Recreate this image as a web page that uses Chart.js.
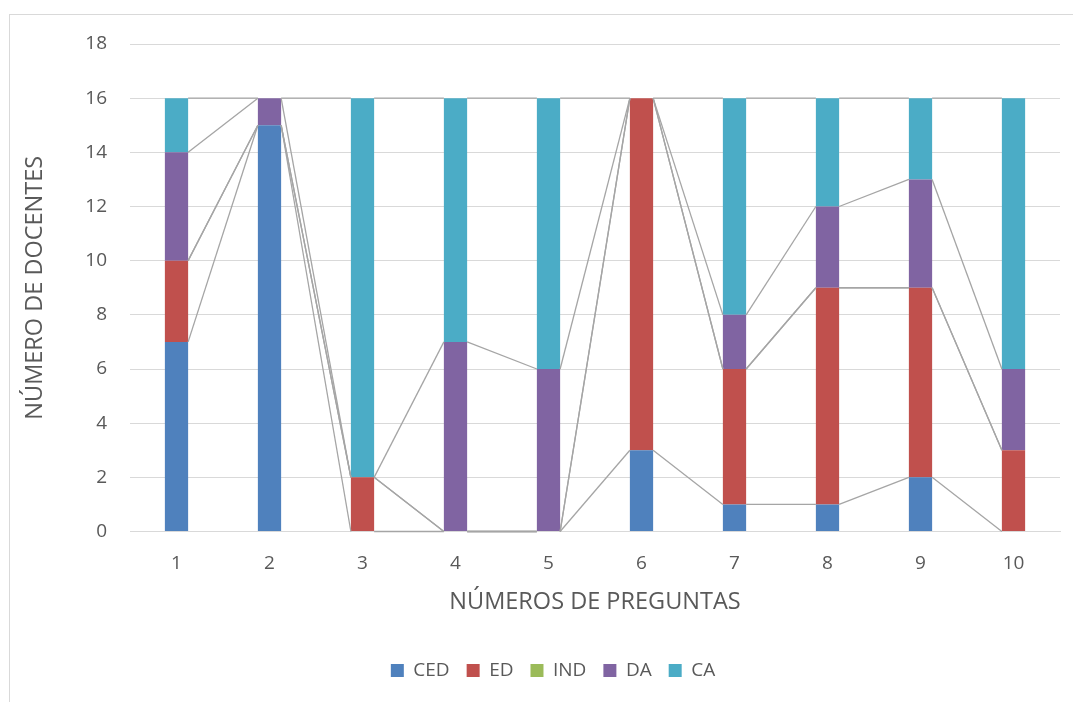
<!DOCTYPE html>
<html lang="es">
<head>
<meta charset="utf-8">
<title>Número de docentes por pregunta</title>
<script src="https://cdn.jsdelivr.net/npm/chart.js@4/dist/chart.umd.min.js"></script>
<style>
    html, body { margin: 0; padding: 0; background: #fff; overflow: hidden; }
    #wrap { position: relative; width: 1073px; height: 702px; }
    #marco {
        position: absolute; left: 9px; top: 14px; width: 1100px; height: 720px;
        border: 1px solid #d9d9d9; box-sizing: border-box; pointer-events: none;
    }
    canvas { position: absolute; left: 0; top: 0; }
</style>
</head>
<body>
<div id="wrap">
    <div id="marco"></div>
    <canvas id="docentesChart" width="1073" height="702"></canvas>
</div>
<script>
// Preguntas 1..10
const preguntas = ['1', '2', '3', '4', '5', '6', '7', '8', '9', '10'];

// Respuestas por categoría
const ced = [7, 15, 0, 0, 0, 3, 1, 1, 2, 0];
const ed  = [3, 0, 2, 0, 0, 13, 5, 8, 7, 3];
const ind = [0, 0, 0, 0, 0, 0, 0, 0, 0, 0];
const da  = [4, 1, 0, 7, 6, 0, 2, 3, 4, 3];
const ca  = [2, 0, 14, 9, 10, 0, 8, 4, 3, 10];

const fuente = "'Open Sans', 'DejaVu Sans', sans-serif";
const gris = '#595959';

// Líneas de serie entre columnas apiladas (como en Excel)
const lineasSerie = {
    id: 'lineasSerie',
    afterDatasetsDraw(chart) {
        const ctx = chart.ctx;
        ctx.save();
        ctx.strokeStyle = '#a5a5a5';
        ctx.lineWidth = 1.3;
        chart.data.datasets.forEach((ds, di) => {
            const barras = chart.getDatasetMeta(di).data;
            for (let i = 0; i < barras.length - 1; i++) {
                const a = barras[i];
                const b = barras[i + 1];
                ctx.beginPath();
                ctx.moveTo(a.x + a.width / 2, a.y);
                ctx.lineTo(b.x - b.width / 2, b.y);
                ctx.stroke();
            }
        });
        ctx.restore();
    }
};

function serie(label, data, color) {
    return {
        label: label,
        data: data,
        backgroundColor: color,
        borderWidth: 0,
        barPercentage: 0.25,
        categoryPercentage: 1
    };
}

const ctx = document.getElementById('docentesChart').getContext('2d');
new Chart(ctx, {
    type: 'bar',
    data: {
        labels: preguntas,
        datasets: [
            serie('CED', ced, '#4f81bd'),
            serie('ED', ed, '#c0504d'),
            serie('IND', ind, '#9bbb59'),
            serie('DA', da, '#8064a2'),
            serie('CA', ca, '#4bacc6')
        ]
    },
    options: {
        responsive: false,
        animation: false,
        // el margen izquierdo mayor desplaza la leyenda hacia la derecha
        layout: { padding: { left: 46, right: 13, top: 44, bottom: 12 } },
        plugins: {
            tooltip: { enabled: false },
            legend: {
                position: 'bottom',
                labels: {
                    boxWidth: 13,
                    boxHeight: 13,
                    padding: 17,
                    color: gris,
                    font: { family: fuente, size: 19 }
                }
            }
        },
        scales: {
            x: {
                stacked: true,
                grid: { display: false, drawTicks: false },
                border: { color: '#d9d9d9', width: 1 },
                ticks: { color: gris, padding: 21, font: { family: fuente, size: 19 } },
                title: {
                    display: true,
                    text: 'NÚMEROS DE PREGUNTAS',
                    color: gris,
                    font: { family: fuente, size: 23.5 },
                    padding: { top: 0, bottom: 28 }
                },
                afterFit(escala) { escala.height = 112.5; }
            },
            y: {
                stacked: true,
                min: 0,
                max: 18,
                ticks: { stepSize: 2, color: gris, padding: 23, font: { family: fuente, size: 19 } },
                grid: { color: '#d9d9d9', lineWidth: 1, drawTicks: false },
                border: { display: false },
                title: {
                    display: true,
                    text: 'NÚMERO DE DOCENTES',
                    color: gris,
                    font: { family: fuente, size: 23.5 },
                    padding: { top: -25, bottom: 0 }
                },
                afterFit(escala) { escala.width = 84; }
            }
        }
    },
    plugins: [lineasSerie]
});
</script>
</body>
</html>
